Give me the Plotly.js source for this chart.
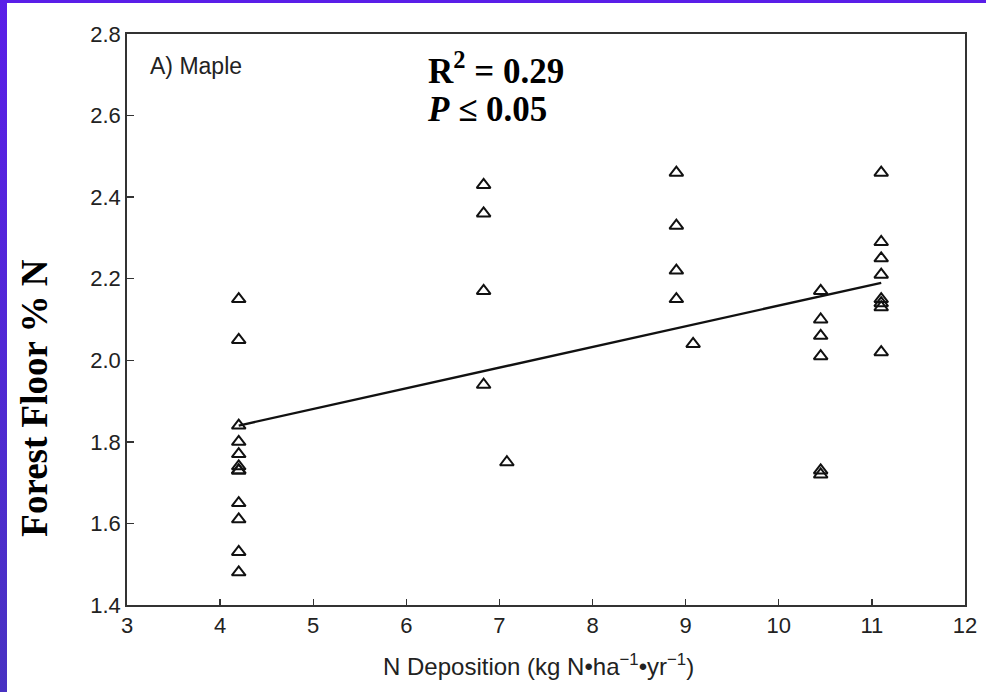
<!DOCTYPE html>
<html>
<head>
<meta charset="utf-8">
<script src="https://cdn.plot.ly/plotly-3.0.1.min.js"></script>
<style>
  html, body { margin: 0; padding: 0; width: 986px; height: 692px; overflow: hidden; background: #ffffff; }
  #band-top { position: absolute; left: 0; top: 0; width: 986px; height: 3px; background: #5a1ee8; }
  #band-left { position: absolute; left: 0; top: 0; width: 7px; height: 692px; background: linear-gradient(to bottom, #5a1ee8, #4832c2); }
  #chart { position: absolute; left: 7px; top: 3px; width: 979px; height: 689px; }
</style>
</head>
<body>
<div id="band-top"></div>
<div id="band-left"></div>
<div id="chart"></div>
<script>
// N deposition (kg N ha-1 yr-1) and forest floor % N
const depositionX = [
  4.2, 4.2, 4.2, 4.2, 4.2, 4.2, 4.2, 4.2, 4.2, 4.2, 4.2, 4.2,
  6.83, 6.83, 6.83, 6.83, 7.08,
  8.9, 8.9, 8.9, 8.9, 9.08,
  10.45, 10.45, 10.45, 10.45, 10.45, 10.45,
  11.1, 11.1, 11.1, 11.1, 11.1, 11.1, 11.1, 11.1
];
const floorN = [
  2.15, 2.05, 1.84, 1.80, 1.77, 1.74, 1.73, 1.73, 1.65, 1.61, 1.53, 1.48,
  2.43, 2.36, 2.17, 1.94, 1.75,
  2.46, 2.33, 2.22, 2.15, 2.04,
  2.17, 2.10, 2.06, 2.01, 1.73, 1.72,
  2.46, 2.29, 2.25, 2.21, 2.15, 2.14, 2.13, 2.02
];
// regression line end points
const fitX = [4.2, 11.1];
const fitY = [1.84, 2.19];

const xTicks = [3, 4, 5, 6, 7, 8, 9, 10, 11, 12];
const yTicks = [1.4, 1.6, 1.8, 2.0, 2.2, 2.4, 2.6, 2.8];
const yTickText = ["1.4", "1.6", "1.8", "2.0", "2.2", "2.4", "2.6", "2.8"];

const traces = [
  {
    x: depositionX, y: floorN, type: "scatter", mode: "markers",
    marker: { symbol: "triangle-up-open", size: 12, color: "#111", line: { width: 2, color: "#111" } },
    showlegend: false, cliponaxis: false
  },
  {
    x: fitX, y: fitY, type: "scatter", mode: "lines",
    line: { color: "#111", width: 2.3 }, showlegend: false
  }
];

const sans = "Liberation Sans, Arial, sans-serif";
const serif = "Liberation Serif, Times New Roman, serif";
const axisFont = { family: sans, size: 22, color: "#222" };

const layout = {
  width: 979, height: 689,
  margin: { l: 120, r: 21, t: 31, b: 87 },
  paper_bgcolor: "#ffffff", plot_bgcolor: "#ffffff",
  showlegend: false,
  xaxis: {
    range: [3, 12], tickvals: xTicks, ticktext: xTicks.map(String),
    ticks: "inside", ticklen: 6, tickwidth: 1.3, tickcolor: "#333",
    showline: true, linecolor: "#333", linewidth: 1.8, mirror: true,
    showgrid: false, zeroline: false, tickfont: axisFont
  },
  yaxis: {
    range: [1.4, 2.8], tickvals: yTicks, ticktext: yTickText,
    ticks: "inside", ticklen: 7, tickwidth: 1.3, tickcolor: "#333",
    showline: true, linecolor: "#333", linewidth: 1.8, mirror: true,
    showgrid: false, zeroline: false, tickfont: axisFont
  },
  annotations: [
    { xref: "paper", yref: "paper", x: 0.4916, y: -0.105, xanchor: "center", yanchor: "middle",
      text: "N Deposition (kg N•ha<sup>−1</sup>•yr<sup>−1</sup>)", showarrow: false,
      font: { family: sans, size: 24, color: "#222" } },
    { xref: "paper", yref: "paper", x: -0.1098, y: 0.363, xanchor: "center", yanchor: "middle",
      textangle: -90, text: "<b>Forest Floor % N</b>", showarrow: false,
      font: { family: serif, size: 37, color: "#000" } },
    { xref: "paper", yref: "paper", x: 0.025, y: 0.944, xanchor: "left", yanchor: "middle",
      text: "A) Maple", showarrow: false,
      font: { family: sans, size: 23, color: "#222" } },
    { xref: "paper", yref: "paper", x: 0.357, y: 0.94, xanchor: "left", yanchor: "middle",
      text: "<b>R<sup>2</sup> = 0.29</b>", showarrow: false,
      font: { family: serif, size: 35, color: "#000" } },
    { xref: "paper", yref: "paper", x: 0.356, y: 0.867, xanchor: "left", yanchor: "middle",
      text: "<b><i>P</i> ≤ 0.05</b>", showarrow: false,
      font: { family: serif, size: 35, color: "#000" } }
  ]
};

Plotly.newPlot("chart", traces, layout, { staticPlot: true, displayModeBar: false });
</script>
</body>
</html>
